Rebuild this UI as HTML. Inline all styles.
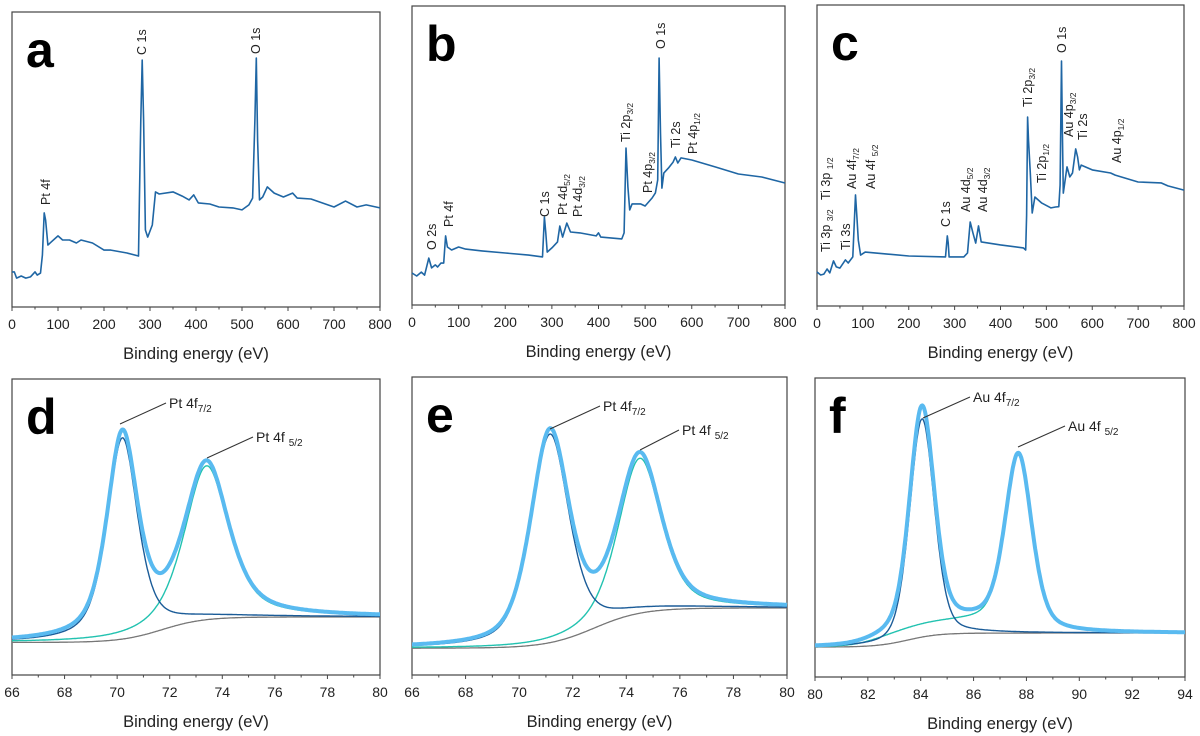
<!DOCTYPE html>
<html><head><meta charset="utf-8"><style>
body{margin:0;background:#fff}
svg{display:block;font-family:"Liberation Sans",sans-serif}
</style></head><body>
<svg id="fig" width="1200" height="736" viewBox="0 0 1200 736" xmlns="http://www.w3.org/2000/svg"></svg>
<script>
// ---- Survey data (intensity, arbitrary 0-100 scale) ----
const aEnergy=[0,5,10,20,30,40,50,55,62,66,70,73,78,85,100,110,125,140,150,175,200,215,250,275,277,280,283,286,290,295,305,312,320,350,370,385,395,405,430,450,480,500,515,523,528,531,534,538,545,555,570,590,610,620,650,700,725,750,770,800];
const aInt=[11.9,11.9,9.8,10.5,9.8,10.2,11.9,10.8,11.5,17.6,31.9,29.5,21.0,22.0,24.1,22.7,22.7,21.7,22.7,21.7,19.3,19.3,18.3,17.3,36.3,63.4,83.7,63.4,26.1,23.7,27.8,39.0,38.3,39.0,37.6,36.3,38.0,35.3,34.9,33.9,33.6,32.9,34.6,36.9,63.4,84.4,56.6,36.3,37.3,40.7,38.6,37.3,38.6,36.9,36.6,33.9,35.9,33.9,34.6,33.6];
const bEnergy=[0,10,20,27,36,42,50,55,62,68,72,76,85,100,115,150,200,250,280,284,287,290,300,312,317,323,332,340,360,395,400,405,450,455,459,463,467,472,490,500,515,522,527,530,533,536,540,550,560,565,570,577,600,650,700,750,800];
const bInt=[10.7,9.7,11.0,10.0,15.7,12.4,13.4,12.7,14.0,14.0,23.1,19.4,18.4,19.4,18.7,18.1,17.4,16.7,16.1,29.4,24.1,17.7,19.1,21.1,26.4,22.7,27.4,24.4,24.1,23.1,24.1,22.7,22.1,24.1,52.5,39.5,31.8,33.8,33.8,33.1,35.8,37.5,41.8,82.6,57.5,39.1,44.1,45.8,47.8,49.5,47.5,49.2,48.5,46.2,43.8,42.8,40.8];
const cEnergy=[0,8,15,22,28,36,42,50,62,68,78,84,87,90,95,105,150,200,280,284,286,288,320,328,334,340,346,352,358,400,450,455,457,459,461,465,469,475,490,510,520,527,530,532,533,535,537,545,551,557,564,568,572,576,600,640,650,700,750,765,800];
const cInt=[11.3,10.3,10.6,12.3,11.0,15.0,13.0,12.6,15.3,14.3,16.3,36.9,29.6,21.9,16.9,17.9,17.3,16.6,16.3,23.3,21.0,16.3,16.3,17.6,27.9,24.2,20.9,26.6,21.3,20.3,19.3,18.6,30.0,62.8,55.1,44.2,30.9,36.2,34.2,32.6,32.9,33.0,40.2,70.0,81.4,57.5,37.5,46.2,42.9,44.2,52.2,49.5,45.2,46.8,45.2,44.2,43.5,41.2,40.9,39.9,38.5];
// ---- High-resolution fit parameters ----
const dCenters=[70.2,73.4], dHeights=[68,52], dWidths=[1.4,2.0], dEta=[0.6,0.6], dBg=[11,19.6,71.7,0.8], dShift=[0,80,90,1];
const eCenters=[71.15,74.5], eHeights=[70,52], eWidths=[1.7,1.9], eEta=[0.5,0.5], eBg=[9,22.5,72.8,0.9], eShift=[0,80,90,1];
const fCenters=[84.05,87.7], fHeights=[73,58], fWidths=[1.1,1.2], fEta=[0.3,0.4], fBg=[10,14.7,83.5,0.6], fShift=[4,82.3,87.6,0.5];
const surveyTicks=[0,100,200,300,400,500,600,700,800];
const dTicks=[66,68,70,72,74,76,78,80];
const fTicks=[80,82,84,86,88,90,92,94];

const NS="http://www.w3.org/2000/svg";
const svg=document.getElementById('fig');
function el(tag,attrs,parent){const e=document.createElementNS(NS,tag);for(const k in attrs)e.setAttribute(k,attrs[k]);(parent||svg).appendChild(e);return e;}

function panel(f,letter,ticks,minorStep){
  const g=el('g',{});
  
  
  const r=el('rect',{x:f.x0,y:f.y0,width:f.x1-f.x0,height:f.y1-f.y0,fill:'none',stroke:'#444','stroke-width':1.2},g);
  
  
  const xs=v=>f.x0+(v-f.xmin)/(f.xmax-f.xmin)*(f.x1-f.x0);
  const ys=v=>f.y1-v/100*(f.y1-f.y0);
  const tg=el('g',{},g);
  
  
  for(let v=f.xmin;v<=f.xmax+1e-9;v+=minorStep){
    const major=ticks.some(t=>Math.abs(t-v)<1e-6);
    el('line',{x1:xs(v),x2:xs(v),y1:f.y1,y2:f.y1+(major?4:2.5),stroke:'#444','stroke-width':1},tg);
  }
  ticks.forEach(t=>{
    const tx=el('text',{x:xs(t),y:f.y1+22,'text-anchor':'middle','font-size':14,fill:'#222'},tg);
    tx.textContent=t;
    
    
  });
  const at=el('text',{x:(f.x0+f.x1)/2,y:f.y1+52,'text-anchor':'middle','font-size':16.5,fill:'#222'},g);
  at.textContent='Binding energy (eV)';
  
  
  const lt=el('text',{x:f.x0+14,y:f.y0+55,'font-size':50,'font-weight':'bold',fill:'#000'},g);
  lt.textContent=letter;
  
  
  return {g,xs,ys};
}
function poly(g,xsArr,ysArr,xs,ys,color,w,name){
  const p=el('polyline',{points:xsArr.map((x,i)=>xs(x).toFixed(1)+','+ys(ysArr[i]).toFixed(1)).join(' '),fill:'none',stroke:color,'stroke-width':w,'stroke-linejoin':'round'},g);
  
  
  return p;
}
function rotLabel(g,x,yb,main,sub){
  const t=el('text',{transform:`translate(${x+4},${yb}) rotate(-90)`,'font-size':12.5,fill:'#222'},g);
  
  
  const s1=el('tspan',{},t);s1.textContent=main;
  if(sub){const s2=el('tspan',{'font-size':8.5,dy:3},t);s2.textContent=sub;}
}
function survey(f,letter,E,I,labels){
  const P=panel(f,letter,surveyTicks,50);
  poly(P.g,E,I,P.xs,P.ys,'#1f66a4',1.6,'survey-spectrum-'+letter);
  labels.forEach(l=>rotLabel(P.g,l[0],l[1],l[2],l[3]));
}
survey({x0:12,x1:380,y0:12,y1:307,xmin:0,xmax:800},'a',aEnergy,aInt,[[46,205,'Pt 4f'],[142,55,'C 1s'],[256,54,'O 1s']]);
survey({x0:412,x1:785,y0:6,y1:305,xmin:0,xmax:800},'b',bEnergy,bInt,[[432,250,'O 2s'],[449,227,'Pt 4f'],[545,217,'C 1s'],[563,215,'Pt 4d','5/2'],[578,217,'Pt 4d','3/2'],[626,142,'Ti 2p','3/2'],[648,193,'Pt 4p','3/2'],[661,49,'O 1s'],[676,148,'Ti 2s'],[693,154,'Pt 4p','1/2']]);
survey({x0:817,x1:1184,y0:5,y1:306,xmin:0,xmax:800},'c',cEnergy,cInt,[[826,252,'Ti 3p ','3/2'],[826,200,'Ti 3p ','1/2'],[846,250,'Ti 3s'],[852,189,'Au 4f','7/2'],[871,189,'Au 4f ','5/2'],[946,227,'C 1s'],[966,212,'Au 4d','5/2'],[983,212,'Au 4d','3/2'],[1028,107,'Ti 2p','3/2'],[1042,183,'Ti 2p','1/2'],[1062,53,'O 1s'],[1069,137,'Au 4p','3/2'],[1083,140,'Ti 2s'],[1117,163,'Au 4p','1/2']]);

function pv(x,c,h,w,eta){const d=(x-c)/w;return h*(eta/(1+4*d*d)+(1-eta)*Math.exp(-4*Math.LN2*d*d));}
function fit(f,letter,ticks,C,H,W,ETA,BG,SH,callouts){
  const P=panel(f,letter,ticks,1);
  const X=[];for(let i=0;i<=400;i++)X.push(f.xmin+(f.xmax-f.xmin)*i/400);
  const bg=x=>BG[0]+(BG[1]-BG[0])/(1+Math.exp(-(x-BG[2])/BG[3]));
  const sh=x=>SH[0]*(1/(1+Math.exp(-(x-SH[1])/SH[3]))-1/(1+Math.exp(-(x-SH[2])/SH[3])));
  poly(P.g,X,X.map(bg),P.xs,P.ys,'#777',1.3,'background-line-'+letter);
  poly(P.g,X,X.map(x=>bg(x)+sh(x)+pv(x,C[1],H[1],W[1],ETA[1])),P.xs,P.ys,'#22c2b0',1.4,'component-2-'+letter);
  poly(P.g,X,X.map(x=>bg(x)+pv(x,C[0],H[0],W[0],ETA[0])),P.xs,P.ys,'#1b5c98',1.4,'component-1-'+letter);
  poly(P.g,X,X.map(x=>bg(x)+sh(x)+pv(x,C[0],H[0],W[0],ETA[0])+pv(x,C[1],H[1],W[1],ETA[1])),P.xs,P.ys,'#59baf0',4,'envelope-'+letter);
  callouts.forEach(c=>{
    const ln=el('line',{x1:c[0],y1:c[1],x2:c[2],y2:c[3],stroke:'#333','stroke-width':1},P.g);
    
    
    const t=el('text',{x:c[2]+3,y:c[3]+5,'font-size':14,fill:'#222'},P.g);
    
    
    const s1=el('tspan',{},t);s1.textContent=c[4];
    const s2=el('tspan',{'font-size':10,dy:4},t);s2.textContent=c[5];
  });
}
fit({x0:12,x1:380,y0:379,y1:675,xmin:66,xmax:80},'d',dTicks,dCenters,dHeights,dWidths,dEta,dBg,dShift,[[120,424,166,403,'Pt 4f','7/2'],[207,458,253,437,'Pt 4f ','5/2']]);
fit({x0:412,x1:787,y0:377,y1:675,xmin:66,xmax:80},'e',dTicks,eCenters,eHeights,eWidths,eEta,eBg,eShift,[[550,429,600,406,'Pt 4f','7/2'],[640,450,679,430,'Pt 4f ','5/2']]);
fit({x0:815,x1:1185,y0:378,y1:677,xmin:80,xmax:94},'f',fTicks,fCenters,fHeights,fWidths,fEta,fBg,fShift,[[923,418,970,397,'Au 4f','7/2'],[1018,447,1065,426,'Au 4f ','5/2']]);
</script>
</body></html>
